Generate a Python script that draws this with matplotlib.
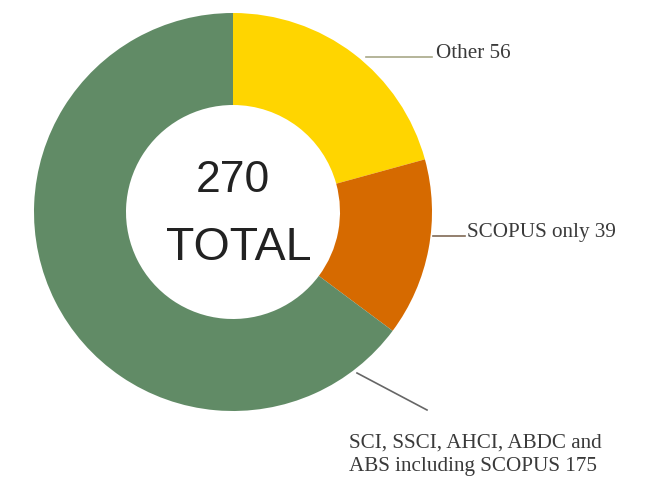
import matplotlib
matplotlib.use("Agg")
import matplotlib.pyplot as plt

# ---- data ----
categories = ["Other", "SCOPUS only", "SCI, SSCI, AHCI, ABDC and\nABS including SCOPUS"]
values = [56, 39, 175]
colors = ["#FFD500", "#D66A00", "#618B66"]
total = sum(values)
center_lines = [str(total), "TOTAL"]

W, H = 658, 482
fig = plt.figure(figsize=(W / 100, H / 100), dpi=100)
ax = fig.add_axes([0, 0, 1, 1])

cx, cy = 233, H - 212
R = 199
ring = 92

ax.pie(values, colors=colors, startangle=90, counterclock=False,
       radius=R, center=(cx, cy),
       wedgeprops=dict(width=ring, linewidth=0), frame=True)
ax.set_xlim(0, W)
ax.set_ylim(0, H)
ax.set_aspect("equal")
ax.axis("off")

# centre text
ax.text(cx, H - 180, center_lines[0], ha="center", va="center",
        fontsize=32, family="Liberation Sans", color="#222222")
ax.text(cx + 6, H - 248, center_lines[1], ha="center", va="center",
        fontsize=33.5, family="Liberation Sans", color="#222222")

serif = "Liberation Serif"
txtc = "#3a3a3a"
fs = 15.2

# labels with leader lines
labels = [f"{c} {v}" for c, v in zip(categories, values)]
ax.plot([366, 432], [H - 57, H - 57], color="#A8A888", lw=1.2)
ax.text(436, H - 54, labels[0], ha="left", va="center", fontsize=fs,
        family=serif, color=txtc)

ax.plot([433, 465], [H - 236, H - 236], color="#806a55", lw=1.2)
ax.text(467, H - 233, labels[1], ha="left", va="center", fontsize=fs,
        family=serif, color=txtc)

ax.plot([357, 427], [H - 373, H - 410], color="#666666", lw=1.2)
ax.text(349, H - 455, labels[2], ha="left", va="center", fontsize=fs,
        family=serif, color=txtc, linespacing=1.28)

fig.savefig("out.png", dpi=100, facecolor="white")
